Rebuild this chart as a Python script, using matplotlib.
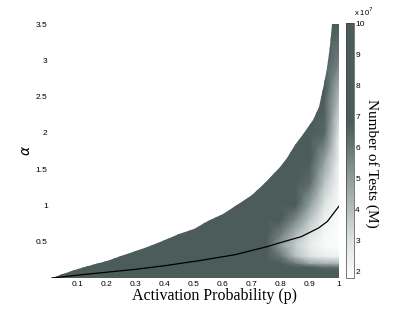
import numpy as np
import matplotlib
matplotlib.use("Agg")
import matplotlib.pyplot as plt
from matplotlib.colors import LinearSegmentedColormap, Normalize
from matplotlib.patches import Polygon

# upper edge of the feasible region (white above it)
edge_p = [0.01, 0.05, 0.1, 0.15, 0.2, 0.25, 0.3, 0.35, 0.4, 0.45, 0.5, 0.55, 0.6,
          0.65, 0.7, 0.75, 0.8, 0.82, 0.85, 0.88, 0.91, 0.93, 0.95, 0.96, 0.97, 0.976]
edge_alpha = [0.0, 0.06, 0.13, 0.185, 0.24, 0.3, 0.37, 0.44, 0.52, 0.6, 0.68, 0.78, 0.88,
              1.0, 1.14, 1.32, 1.55, 1.65, 1.83, 2.0, 2.18, 2.35, 2.68, 2.9, 3.2, 3.5]

# black curve
line_p = [0.01, 0.1, 0.2, 0.3, 0.4, 0.52, 0.64, 0.7, 0.75, 0.8, 0.87, 0.93, 0.96, 1.0]
line_alpha = [0.0, 0.04, 0.08, 0.12, 0.17, 0.24, 0.32, 0.38, 0.43, 0.49, 0.57, 0.69, 0.78, 0.99]

# number of tests (x 1e7) on a coarse grid
grid_p = [0.0, 0.7, 0.75, 0.8, 0.85, 0.9, 0.95, 1.0]
grid_alpha = [0.0, 0.05, 0.1, 0.15, 0.2, 0.3, 0.45, 0.6, 0.8, 1.0, 1.3, 1.6, 2.0, 2.5, 3.0, 3.5]
tests = [
    [10, 10, 10, 10, 10, 10, 10, 10],
    [10, 10, 10, 10, 10, 10, 9.5, 9],
    [10, 10, 10, 10, 9.5, 8.5, 8, 8],
    [10, 10, 10, 9.5, 8, 6.8, 6.3, 6.2],
    [10, 10, 10, 8.5, 6, 4.8, 4.4, 4.3],
    [10, 10, 8.5, 6, 4, 3, 2.5, 2.3],
    [10, 10, 7.2, 5, 3.6, 2.6, 2.0, 1.9],
    [10, 10, 8, 5.8, 4.2, 3, 2.1, 1.9],
    [10, 10, 10, 7.5, 5.5, 3.8, 2.4, 1.9],
    [10, 10, 10, 9, 7, 4.8, 2.9, 2.0],
    [10, 10, 10, 10, 9, 6.3, 3.8, 2.1],
    [10, 10, 10, 10, 10, 8, 4.8, 2.3],
    [10, 10, 10, 10, 10, 10, 6.5, 2.8],
    [10, 10, 10, 10, 10, 10, 9, 4],
    [10, 10, 10, 10, 10, 10, 10, 5.8],
    [10, 10, 10, 10, 10, 10, 10, 7.5],
]

x_ticks = [0.1, 0.2, 0.3, 0.4, 0.5, 0.6, 0.7, 0.8, 0.9, 1]
x_labels = ["0.1", "0.2", "0.3", "0.4", "0.5", "0.6", "0.7", "0.8", "0.9", "1"]
y_ticks = [0.5, 1, 1.5, 2, 2.5, 3, 3.5]
y_labels = ["0.5", "1", "1.5", "2", "2.5", "3", "3.5"]
cb_ticks = [2, 3, 4, 5, 6, 7, 8, 9, 10]

vmin, vmax = 1.8, 10.0
dark = "#4c5c5a"
stops = [(1.8, "#ffffff"), (3, "#dde3e2"), (4, "#b4bfbd"), (5, "#8e9c9a"),
         (6, "#687775"), (6.8, dark), (10, dark)]
cmap = LinearSegmentedColormap.from_list(
    "tests", [((v - vmin) / (vmax - vmin), c) for v, c in stops])

fig = plt.figure(figsize=(3.99, 3.12), dpi=100)
ax = fig.add_axes([0.1228, 0.109, 0.7268, 0.814])
cax = fig.add_axes([0.867, 0.109, 0.02, 0.817])

mesh = ax.pcolormesh(grid_p, grid_alpha, np.array(tests), cmap=cmap,
                     norm=Normalize(vmin, vmax), shading="gouraud")
region = list(zip(edge_p, edge_alpha)) + [(1.0, 3.5), (1.0, 0.0)]
clip = Polygon(region, closed=True, transform=ax.transData)
mesh.set_clip_path(clip)

ax.plot(line_p, line_alpha, color="black", lw=0.9)

ax.set_xlim(0, 1)
ax.set_ylim(0, 3.5)
for s in ax.spines.values():
    s.set_visible(False)
ax.set_xticks(x_ticks)
ax.set_xticklabels(x_labels)
ax.set_yticks(y_ticks)
ax.set_yticklabels(y_labels)
ax.tick_params(length=0, labelsize=6, pad=2)
ax.tick_params(axis="y", pad=1)
for lab in ax.get_xticklabels() + ax.get_yticklabels():
    lab.set_family("Liberation Sans")

ax.set_xlabel("Activation Probability (p)", family="Liberation Serif",
              fontsize=11.5, labelpad=0)
ax.xaxis.label.set_x(0.569)
ax.set_ylabel(r"$\alpha$", fontsize=10, labelpad=2)

cb = fig.colorbar(mesh, cax=cax, ticks=cb_ticks)
cb.outline.set_linewidth(0.5)
cb.outline.set_edgecolor("#444444")
cax.tick_params(length=0, labelsize=6, pad=1)
for lab in cax.get_yticklabels():
    lab.set_family("Liberation Sans")
cb.set_label("Number of Tests (M)", family="Liberation Serif", fontsize=11,
             rotation=270, ha="center", va="center")
cax.yaxis.set_label_coords(3.3, 0.451)
fig.text(0.886, 0.948, r"x 10$^7$", fontsize=5.5, family="Liberation Sans")

fig.savefig("out.png", dpi=100)
